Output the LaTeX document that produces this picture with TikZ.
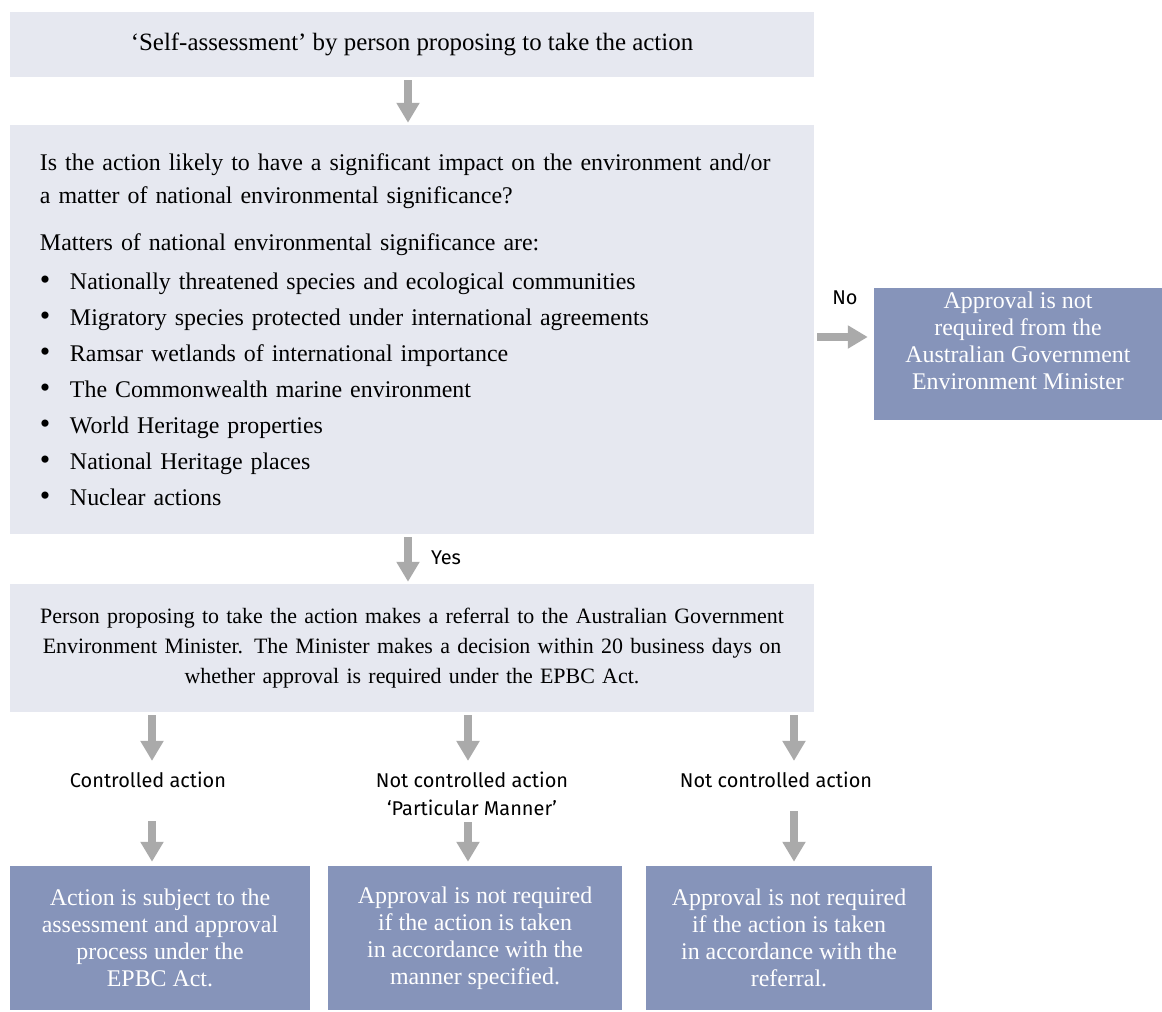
\documentclass[tikz,border=0pt]{standalone}
\usepackage{fontspec}
\setmainfont{Liberation Serif}
\setsansfont{Fira Sans}
\usetikzlibrary{arrows.meta,positioning}
\definecolor{paleblue}{RGB}{230,232,240}
\definecolor{slateblue}{RGB}{134,148,186}
\definecolor{arrowgrey}{RGB}{170,170,170}
\newcommand{\listdot}{\makebox[30bp][l]{\fontsize{30}{30}\selectfont\textbullet}}
\tikzset{
  pale/.style={fill=paleblue, inner sep=0pt, font=\fontsize{24}{30}\selectfont},
  dark/.style={fill=slateblue, text=white, align=center, inner sep=0pt, font=\fontsize{24}{27}\selectfont},
  tag/.style={font=\sffamily\fontsize{20}{28}\selectfont, align=center, inner sep=0pt},
  flow/.style={draw=arrowgrey, line width=8bp, -{Triangle[width=22bp,length=20bp]}, shorten <=3bp, shorten >=2bp},
}
\begin{document}
\begin{tikzpicture}[x=1bp,y=-1bp]
\useasboundingbox (0,0) rectangle (1162,1012);
  % Node: self
  \node[pale, minimum width=804bp, minimum height=65bp, font=\fontsize{25}{30}\selectfont] (self) at (412,44.5)
    {‘Self-assessment’ by person proposing to take the action};
  % Node: question
  \node[pale, minimum width=804bp, minimum height=409bp, text width=744bp, inner xsep=30bp, align=left,
        font=\fontsize{24}{33}\selectfont] (question) at (412,329.5)
    {Is the action likely to have a significant impact on the environment and/or\\
     a matter of national environmental significance?\\[14bp]
     Matters of national environmental significance are:\\[7bp]
     \listdot Nationally threatened species and ecological communities\\[3bp]
     \listdot Migratory species protected under international agreements\\[3bp]
     \listdot Ramsar wetlands of international importance\\[3bp]
     \listdot The Commonwealth marine environment\\[3bp]
     \listdot World Heritage properties\\[3bp]
     \listdot National Heritage places\\[3bp]
     \listdot Nuclear actions};
  % Node: nobox
  \node[dark, minimum width=288bp, minimum height=132bp] (nobox) at (1018,354)
    {Approval is not\\ required from the\\ Australian Government\\ Environment Minister\\ \mbox{}};
  % Node: referral
  \node[pale, minimum width=804bp, minimum height=128bp, text width=790bp, align=center,
        font=\fontsize{22}{30}\selectfont] (referral) at (412,648)
    {Person proposing to take the action makes a referral to the Australian Government\\
     Environment Minister. The Minister makes a decision within 20 business days on\\
     whether approval is required under the EPBC Act.};
  % Node: actbox
  \node[dark, minimum width=300bp, minimum height=144bp] (actbox) at (160,938)
    {Action is subject to the\\ assessment and approval\\ process under the\\ EPBC Act.};
  % Node: mannerbox
  \node[dark, minimum width=294bp, minimum height=144bp] (mannerbox) at (475,938)
    {Approval is not required\\ if the action is taken\\ in accordance with the\\ manner specified.};
  % Node: referralbox
  \node[dark, minimum width=286bp, minimum height=144bp] (referralbox) at (789,938)
    {Approval is not required\\ if the action is taken\\ in accordance with the\\ referral.};
  % Labels
  \node[tag] (no) at (845,298) {No};
  \node[tag] (yes) at (446,558) {Yes};
  \node[tag] (ctrl) at (148,780) {Controlled action};
  \node[tag] (manner) at (472,794) {Not controlled action\\ ‘Particular Manner’};
  \node[tag] (notctrl) at (776,780) {Not controlled action};
  \coordinate (xa) at (152,0);
  \coordinate (xb) at (468,0);
  \coordinate (xc) at (794,0);
  % Edge: self -> question
  \draw[flow] ([xshift=-4bp]self.south) -- ([xshift=-4bp]question.north);
  % Edge: question -> nobox
  \draw[flow, shorten >=6bp] (question.east |- 0,337) -- (nobox.west |- 0,337);
  % Edge: question -> referral
  \draw[flow] ([xshift=-4bp]question.south) -- ([xshift=-4bp]referral.north);
  % Edge: referral -> labels
  \draw[flow, shorten >=11bp] (referral.south -| xa) -- (ctrl.north -| xa);
  \draw[flow, shorten >=11bp] (referral.south -| xb) -- (manner.north -| xb);
  \draw[flow, shorten >=11bp] (referral.south -| xc) -- (notctrl.north -| xc);
  % Edge: labels -> outcome boxes
  \draw[flow, shorten <=33bp, shorten >=4bp] (ctrl.south -| xa) -- (actbox.north -| xa);
  \draw[flow, shorten <=6bp, shorten >=4bp] (manner.south -| xb) -- (mannerbox.north -| xb);
  \draw[flow, shorten <=23bp, shorten >=4bp] (notctrl.south -| xc) -- (referralbox.north -| xc);
\end{tikzpicture}
\end{document}
